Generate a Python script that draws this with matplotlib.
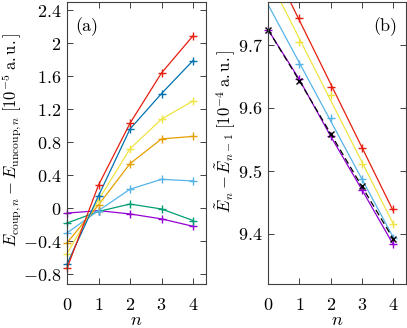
import numpy as np
import matplotlib
matplotlib.use('Agg')
import matplotlib.pyplot as plt

plt.rcParams['font.family'] = 'serif'
plt.rcParams['font.serif'] = ['cmr10']
plt.rcParams['mathtext.fontset'] = 'cm'
plt.rcParams['axes.formatter.use_mathtext'] = True
plt.rcParams['axes.unicode_minus'] = True

# gnuplot-style colours
purple, green, skyblue, orange = '#9400D3', '#009E73', '#56B4E9', '#E69F00'
yellow, blue, red = '#F0E442', '#0072B2', '#E51E10'

n = np.array([0, 1, 2, 3, 4])

# panel (a): E_coup - E_uncoup  [1e-5 a.u.]
a_purple = [-0.06, -0.03, -0.07, -0.13, -0.22]
a_green = [-0.18, -0.04, 0.05, -0.01, -0.15]
a_skyblue = [-0.30, -0.03, 0.23, 0.35, 0.33]
a_orange = [-0.42, 0.04, 0.54, 0.84, 0.87]
a_yellow = [-0.55, 0.10, 0.72, 1.08, 1.30]
a_blue = [-0.68, 0.15, 0.96, 1.39, 1.79]
a_red = [-0.73, 0.28, 1.03, 1.64, 2.09]

# panel (b): E_n - E_{n-1}  [1e-4 a.u.]
n_b = np.array([1, 2, 3, 4])
b_red = [9.743, 9.633, 9.536, 9.439]
b_yellow = [9.705, 9.621, 9.511, 9.415]
b_skyblue = [9.669, 9.583, 9.487, 9.393]
b_purple = [9.724, 9.645, 9.555, 9.470, 9.383]
b_black = [9.724, 9.643, 9.559, 9.475, 9.392]

fig = plt.figure(figsize=(4.07, 3.28), dpi=100)
ax1 = fig.add_axes([0.1646, 0.134, 0.3415, 0.860])
ax2 = fig.add_axes([0.6585, 0.134, 0.339, 0.860])

fs = 13
lfs = 12
lw = 0.9
ms = 5.5

for vals, c in [(a_purple, purple), (a_green, green), (a_skyblue, skyblue),
                (a_orange, orange), (a_yellow, yellow), (a_blue, blue), (a_red, red)]:
    ax1.plot(n, vals, color=c, lw=lw, marker='+', ms=ms, mew=1.0, clip_on=False)

ax1.set_xlim(0, 4.41)
ax1.set_ylim(-0.92, 2.5)
yt = [-0.8, -0.4, 0, 0.4, 0.8, 1.2, 1.6, 2.0, 2.4]
ax1.set_yticks(yt)
ax1.set_yticklabels(['$%g$' % v for v in yt])
ax1.set_ylabel(r'$E_{\mathrm{coup},n} - E_{\mathrm{uncoup},n}\;[10^{-5}\;\mathrm{a.u.}]$',
               fontsize=lfs)
ax1.yaxis.set_label_coords(-0.315, 0.51)
ax1.text(0.06, 0.945, '(a)', transform=ax1.transAxes, fontsize=fs, va='top', ha='left')

# fitted straight lines for the coloured sets in (b)
xx = np.array([0, 4])
for vals, c in [(b_red, red), (b_yellow, yellow), (b_skyblue, skyblue)]:
    p = np.polyfit(n_b, vals, 1)
    ax2.plot(xx, np.polyval(p, xx), color=c, lw=lw)
    ax2.plot(n_b, vals, ls='none', color=c, marker='+', ms=ms, mew=1.0, clip_on=False)
ax2.plot(n, b_purple, color=purple, lw=lw, marker='+', ms=ms, mew=1.0, clip_on=False)
ax2.plot(n, b_black, color='black', lw=lw, ls=(0, (5, 3)), marker='x', ms=4.5, mew=1.0,
         clip_on=False)

ax2.set_xlim(0, 4.41)
ax2.set_ylim(9.32, 9.768)
yt2 = [9.4, 9.5, 9.6, 9.7]
ax2.set_yticks(yt2)
ax2.set_yticklabels(['$%.1f$' % v for v in yt2])
ax2.set_ylabel(r'$\tilde{E}_n - \tilde{E}_{n-1}\;[10^{-4}\;\mathrm{a.u.}]$',
               fontsize=lfs)
ax2.yaxis.set_label_coords(-0.215, 0.54)
ax2.text(0.94, 0.945, '(b)', transform=ax2.transAxes, fontsize=fs, va='top', ha='right')

for ax in (ax1, ax2):
    ax.set_xticks(n)
    ax.set_xticklabels(['$%d$' % v for v in n])
    ax.set_xlabel('$n$', fontsize=fs, labelpad=0)
    ax.tick_params(direction='in', top=True, right=True, labelsize=fs,
                   length=4, width=0.7, color='#404040')
    ax.tick_params(axis='y', pad=4)
    ax.tick_params(axis='x', pad=9)
    for s in ax.spines.values():
        s.set_linewidth(0.8)
        s.set_color('#404040')

fig.savefig('out.png', dpi=100)
